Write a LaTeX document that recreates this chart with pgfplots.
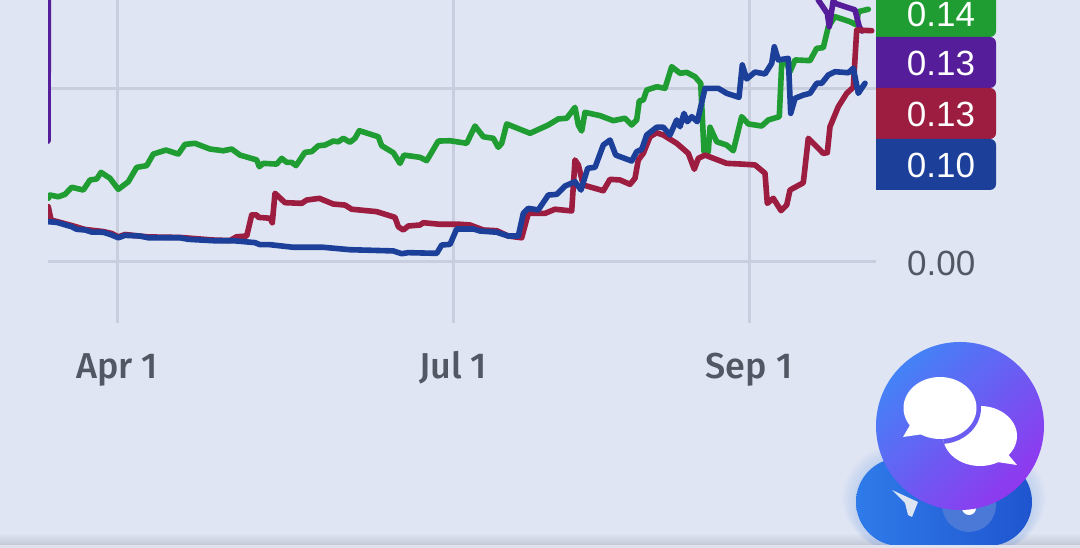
\documentclass[border=0pt]{standalone}
\usepackage{fontspec}
\setmainfont{Liberation Sans}
\newfontfamily\medfont{Fira Sans Medium}
\usepackage{pgfplots}
\pgfplotsset{compat=1.18}
\definecolor{bg}{HTML}{DFE5F3}
\definecolor{gridc}{HTML}{C8CEDD}
\definecolor{labc}{HTML}{515863}
\definecolor{gr}{HTML}{209D32}
\definecolor{pu}{HTML}{561D9B}
\definecolor{re}{HTML}{9C1D3F}
\definecolor{bl}{HTML}{1C3F9A}
\definecolor{pillA}{HTML}{2F7BEA}
\definecolor{pillB}{HTML}{1F55CF}
\definecolor{pillC}{HTML}{4A79D8}
\definecolor{funnel}{HTML}{DDE4F2}
\definecolor{chatA}{HTML}{4482F7}
\definecolor{chatB}{HTML}{9038EF}
\definecolor{chatC}{HTML}{6A5CF0}
\definecolor{shadowc}{HTML}{C4C9D8}
\definecolor{stripc}{HTML}{E0E3EE}
\newcommand{\tagbox}[4]{% colour, top, bottom, text
  \fill[#1] (876,548-#2) [rounded corners=6pt] -- (996,548-#2) -- (996,548-#3) [sharp corners] -- (876,548-#3) -- cycle;
  \node[text=white,inner sep=0pt] at (941,548-#2/2-#3/2-1) {\fontsize{35}{35}\selectfont #4};
}
\begin{document}
\begin{tikzpicture}[x=1pt,y=1pt]
\path[use as bounding box,clip] (0,0) rectangle (1080,548);
\fill[bg] (0,0) rectangle (1080,548);
\begin{axis}[
  at={(48pt,225pt)},anchor=south west,
  scale only axis,width=828pt,height=323pt,
  xmin=48,xmax=876,ymin=-0.03526,ymax=0.15145,
  axis line style={draw=none},
  major tick length=0pt,
  grid=major,
  grid style={gridc,line width=3pt},
  xtick={117,453,749},
  xticklabels={Apr 1,Jul 1,Sep 1},
  ytick={0,0.1},
  yticklabels={0.00,{}},
  yticklabel pos=right,
  xticklabel style={anchor=base,inner sep=0pt,yshift=-56pt,text=labc,font=\medfont\fontsize{36}{36}\selectfont},
  yticklabel style={anchor=west,inner sep=0pt,xshift=31pt,yshift=-1pt,text=labc,font=\fontsize{35}{35}\selectfont},
  every axis plot/.append style={line width=5.6pt,line join=round,line cap=round,no markers},
]
\addplot[gr] coordinates {
(48.3,.0368)(50,.0387)(58.3,.0377)(65,.0391)(71.7,.0432)(83.3,.0416)(90,.0474)(96.7,.0480)(101,.0518)(110,.0484)
(118.3,.0420)(128.3,.0464)(136.7,.0547)(146.7,.0557)(153.3,.0624)(166,.0647)(178.3,.0624)(185,.0680)(195,.0686)(210,.0653)
(223.3,.0643)(231.7,.0653)(240,.0618)(256.7,.0590)(259.3,.0551)(263.3,.0570)(276.7,.0566)(281.7,.0599)(286.7,.0576)(291.7,.0576)
(296,.0557)(305,.0634)(311.7,.0638)(318.3,.0672)(325,.0676)(333.3,.0699)(338.3,.0695)(343.3,.0715)(350,.0692)(355,.0715)
(359.3,.0759)(378.3,.0724)(381.7,.0672)(393.3,.0632)(400,.0570)(404,.0618)(420,.0605)(426.7,.0586)(438.3,.0699)(450,.0701)
(466.7,.0686)(475,.0786)(483.3,.0724)(493.3,.0715)(498.3,.0663)(501.7,.0686)(506.7,.0798)(530,.0744)(548.3,.0792)(558.3,.0827)
(566.7,.0831)(575,.0894)(578.3,.0792)(581.7,.0757)(585,.0865)(600,.0846)(613.3,.0817)(625,.0831)(631.7,.0792)(636.7,.0821)
(639.3,.0932)(643.3,.0936)(646.7,.0994)(656.7,.1013)(665,.1004)(671.7,.1129)(680,.1091)(686.7,.1096)(695,.1071)(700.7,.1033)
(702.3,.0840)(704,.0638)(708.3,.0638)(710,.0779)(716.7,.0695)(726.7,.0676)(733.3,.0643)(741.7,.0840)(748.3,.0798)(761.7,.0786)
(768.3,.0821)(779.3,.0840)(781.7,.1148)(785,.1172)(790,.1100)(795,.1168)(810,.1164)(816.7,.1235)(823.3,.1239)(828.3,.1360)
(835,.1418)(850,.1389)(856.7,.1370)(858.3,.1447)(868.3,.1461)};
\addplot[pu] coordinates {
(48,.0699)(48.5,.1688)(816,.1688)(818.3,.1514)(827.3,.1437)(829.3,.1360)(833.3,.1514)(835,.1495)(855,.1457)(859.3,.1360)(862,.1335)};
\addplot[re] coordinates {
(48.3,.0320)(51,.0243)(71.7,.0211)(85,.0188)(103.3,.0176)(111.7,.0165)(118.3,.0145)(125,.0159)(148.3,.0145)(180,.0142)
(213.3,.0127)(230,.0124)(236.7,.0146)(246.7,.0150)(251.7,.0272)(256.7,.0272)(258.3,.0258)(270,.0253)(272.3,.0227)(275,.0397)
(285,.0343)(301.7,.0339)(306.7,.0358)(319.3,.0368)(333.3,.0335)(345,.0329)(351.7,.0305)(376.7,.0291)(395,.0258)(398.3,.0204)
(403.3,.0185)(408.3,.0208)(420,.0214)(423.3,.0227)(440,.0218)(460,.0218)(470,.0214)(483.3,.0185)(496.7,.0181)(508.3,.0150)
(521.7,.0140)(528.3,.0281)(545,.0281)(555,.0305)(571.7,.0295)(575,.0590)(578.3,.0561)(583.3,.0445)(603.3,.0412)(610,.0478)
(620,.0474)(630,.0449)(635,.0484)(638.3,.0590)(643.3,.0628)(650,.0724)(656.7,.0747)(663.3,.0734)(676.7,.0686)(688.3,.0628)
(694.3,.0536)(698.3,.0599)(705,.0618)(726.7,.0570)(741.7,.0566)(755,.0561)(765,.0513)(767.3,.0339)(773.3,.0368)(781,.0297)
(786.7,.0329)(790,.0416)(803.3,.0458)(808.3,.0715)(823.3,.0628)(827.3,.0632)(830,.0782)(838.3,.0898)(846.7,.0975)(853.3,.1010)
(856.7,.1341)(871.7,.1337)};
\addplot[bl] coordinates {
(48.3,.0233)(56.7,.0229)(71.7,.0204)(76.7,.0189)(85,.0185)(91.7,.0173)(103.3,.0172)(111.7,.0156)(118.3,.0140)(125,.0154)
(140,.0150)(148.3,.0140)(180,.0140)(188.3,.0131)(213.3,.0123)(233.3,.0123)(255,.0112)(260,.0100)(270,.0100)(293.3,.0085)
(323.3,.0085)(350,.0071)(393.3,.0064)(401.7,.0048)(408.3,.0054)(436.7,.0050)(441.7,.0098)(450,.0102)(456.7,.0191)(473.3,.0191)
(480,.0179)(496.7,.0172)(508.3,.0150)(518.3,.0150)(523.3,.0281)(528.3,.0310)(538.3,.0301)(548.3,.0387)(556.7,.0391)(565,.0439)
(575,.0464)(581,.0416)(587.7,.0542)(595,.0547)(603.3,.0676)(610,.0705)(615.7,.0618)(631.7,.0584)(636.7,.0638)(641.7,.0651)
(646.7,.0734)(656.7,.0779)(663.3,.0779)(670,.0734)(676.7,.0821)(680,.0782)(684,.0859)(687.3,.0811)(691.7,.0840)(697.3,.0811)
(705,.1004)(718.3,.1004)(726.7,.0975)(739,.0952)(742.3,.1139)(746.7,.1058)(755,.1098)(765,.1087)(771.7,.1148)(774.3,.1244)
(778.3,.1168)(788.3,.1177)(790.7,.0859)(795,.0946)(803.3,.0965)(810,.0975)(816.7,.1033)(821.7,.1033)(828.3,.1081)(835,.1100)
(848.3,.1094)(853.3,.1120)(858.3,.0975)(865,.1033)};
\end{axis}
% value tags
\tagbox{gr}{-20}{37}{}
\node[text=white,inner sep=0pt] at (941,548-14) {\fontsize{35}{35}\selectfont 0.14};
\tagbox{pu}{37}{88}{0.13}
\tagbox{re}{88}{139}{0.13}
\tagbox{bl}{139}{190}{0.10}
% shadow along the bottom edge
\shade[top color=bg,bottom color=shadowc] (0,3) rectangle (1080,15);
% buttons, with a soft glow round the pill
\foreach \g in {14,11,8,5,2}
  \fill[pillA,opacity=.03,rounded corners=44pt+\g pt] (856-\g,-4) rectangle (1032+\g,548-458+\g);
\begin{scope}
\path[clip,rounded corners=44pt] (856,548-546) rectangle (1032,548-458);
\shade[left color=pillA,right color=pillB] (856,0) rectangle (1032,100);
\fill[pillC] (969,548-505) circle (27);
\fill[white] (969,548-508) circle (7);
\fill[funnel] (892,548-490) -- (918,548-502) -- (912,548-517) -- (908,548-515) -- (905,548-503) -- cycle;
\end{scope}
\shade[top color=chatA,bottom color=chatB,shading angle=45] (960,548-426) circle (84);
\fill[white] (980,548-436) ellipse (37 and 30);
\fill[white] (1006,548-452) -- (1017,548-465) -- (997,548-462) -- cycle;
\begin{scope}
\clip (980,548-436) ellipse (37 and 30);
\fill[chatC] (940,548-408) ellipse (41 and 36);
\end{scope}
\fill[white] (940,548-408) ellipse (36.5 and 31);
\fill[white] (910,548-425) -- (903,548-437) -- (924,548-434) -- cycle;
\fill[stripc] (0,0) rectangle (1080,3);
\end{tikzpicture}
\end{document}
